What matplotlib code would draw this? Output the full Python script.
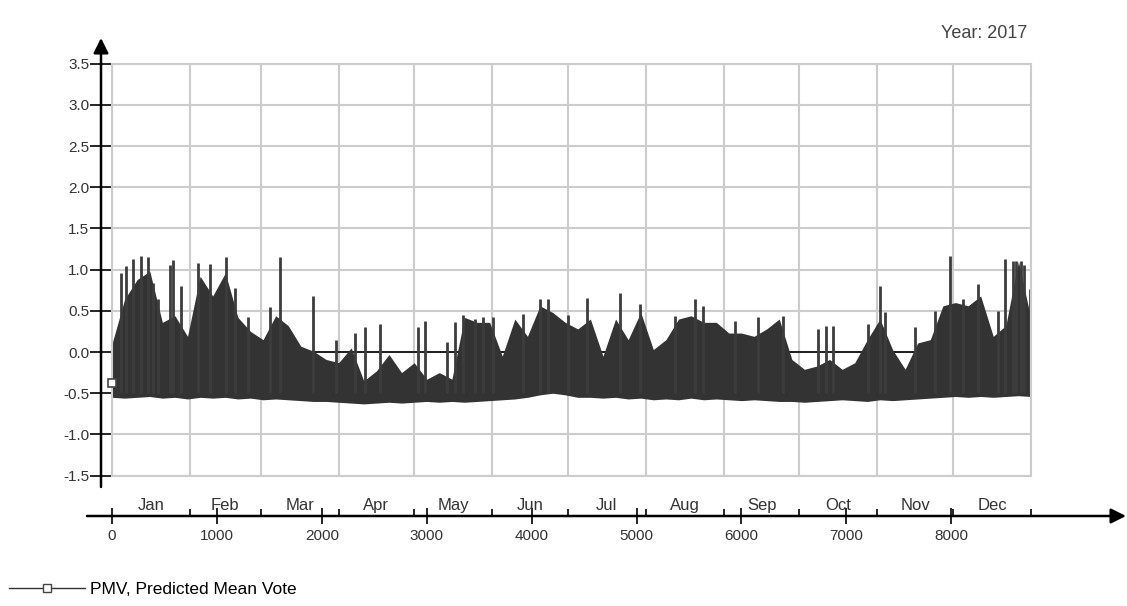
import numpy as np
import matplotlib
matplotlib.use('Agg')
import matplotlib.pyplot as plt
from matplotlib.lines import Line2D

plt.rcParams['font.family'] = ['Liberation Sans', 'DejaVu Sans']
plt.rcParams['axes.unicode_minus'] = False

# PMV band, every 120 hours (5 days)
body_hours = np.arange(0, 8761, 120)
body_top = [0.10, 0.64, 0.88, 0.98, 0.36, 0.44, 0.19, 0.92, 0.68, 0.96,
            0.42, 0.25, 0.15, 0.44, 0.32, 0.07, 0.01, -0.09, -0.13, 0.05,
            -0.35, -0.23, -0.03, -0.25, -0.13, -0.33, -0.25, -0.33, 0.42, 0.36,
            0.36, -0.05, 0.40, 0.19, 0.56, 0.48, 0.36, 0.28, 0.40, -0.05,
            0.40, 0.15, 0.48, 0.03, 0.15, 0.40, 0.44, 0.36, 0.36, 0.23,
            0.23, 0.19, 0.28, 0.40, -0.09, -0.21, -0.17, -0.09, -0.21, -0.13,
            0.15, 0.40, 0.03, -0.21, 0.11, 0.15, 0.56, 0.60, 0.56, 0.68,
            0.19, 0.32, 1.10, 0.40]
body_low = [-0.55, -0.56, -0.55, -0.54, -0.56, -0.55, -0.57, -0.55, -0.56, -0.55,
            -0.57, -0.56, -0.58, -0.57, -0.58, -0.59, -0.60, -0.60, -0.61, -0.62,
            -0.63, -0.62, -0.61, -0.62, -0.61, -0.60, -0.61, -0.60, -0.61, -0.60,
            -0.59, -0.58, -0.57, -0.55, -0.52, -0.50, -0.52, -0.55, -0.55, -0.56,
            -0.55, -0.57, -0.56, -0.58, -0.57, -0.58, -0.56, -0.58, -0.57, -0.58,
            -0.59, -0.58, -0.59, -0.60, -0.60, -0.61, -0.60, -0.59, -0.58, -0.59,
            -0.60, -0.58, -0.59, -0.58, -0.57, -0.56, -0.55, -0.54, -0.55, -0.54,
            -0.55, -0.54, -0.53, -0.54]

# single tall hourly peaks
spike_hours = [89, 137, 200, 280, 343, 391, 438, 550, 582, 661, 820, 931, 1090,
               1169, 1296, 1503, 1598, 1916, 2138, 2313, 2409, 2552, 2917, 2987,
               3197, 3270, 3346, 3457, 3537, 3632, 3918, 4078, 4158, 4347, 4530,
               4840, 5030, 5364, 5557, 5636, 5936, 6159, 6397, 6730, 6810, 6873,
               7207, 7318, 7366, 7652, 7843, 7986, 8113, 8256, 8446, 8510, 8590,
               8620, 8660, 8690, 8749]
spike_vals = [0.96, 1.04, 1.13, 1.17, 1.15, 0.84, 0.64, 1.06, 1.12, 0.80, 1.08,
              1.07, 1.15, 0.78, 0.42, 0.55, 1.15, 0.68, 0.15, 0.23, 0.30, 0.34,
              0.30, 0.38, 0.12, 0.36, 0.45, 0.40, 0.43, 0.43, 0.46, 0.64, 0.64,
              0.45, 0.66, 0.72, 0.58, 0.44, 0.64, 0.56, 0.38, 0.42, 0.44, 0.28,
              0.32, 0.32, 0.34, 0.80, 0.48, 0.30, 0.50, 1.17, 0.64, 0.82, 0.50,
              1.13, 1.10, 1.10, 1.10, 1.05, 0.76]
first_value = -0.38

months = ['Jan', 'Feb', 'Mar', 'Apr', 'May', 'Jun',
          'Jul', 'Aug', 'Sep', 'Oct', 'Nov', 'Dec']
month_bounds = [0, 744, 1416, 2160, 2880, 3624, 4344,
                5088, 5832, 6552, 7296, 8016, 8760]
y_ticks = [-1.5, -1.0, -0.5, 0.0, 0.5, 1.0, 1.5, 2.0, 2.5, 3.0, 3.5]
x_ticks = [0, 1000, 2000, 3000, 4000, 5000, 6000, 7000, 8000]

W, H = 1127, 606
fig = plt.figure(figsize=(W / 100, H / 100), dpi=100)
ax = fig.add_axes([112 / W, 1 - 475.6 / H, 919 / W, 412 / H])

band = '#333333'
ax.axhline(0, color='black', lw=1.2, zorder=1.5)
ax.fill_between(body_hours, body_low, body_top, color=band, lw=0, zorder=2)
ax.vlines(spike_hours, -0.5, spike_vals, color='#3c3c3c', lw=2.0, zorder=2.1)
ax.plot([0], [first_value], marker='s', ms=6, mfc='white', mec='#444444',
        mew=1.2, ls='none', zorder=3, clip_on=False)

ax.set_xlim(0, 8760)
ax.set_ylim(-1.5, 3.5)
ax.set_xticks(month_bounds)
ax.set_yticks(y_ticks)
ax.set_yticklabels(['%.1f' % v for v in y_ticks])
ax.grid(True, color='#cccccc', lw=1.5, zorder=0)
ax.set_axisbelow(True)
for s in ax.spines.values():
    s.set_color('#cccccc')
    s.set_linewidth(1.5)
ax.tick_params(axis='x', length=0, labelbottom=False)
ax.tick_params(axis='y', direction='out', length=16, width=1.2, color='black',
               pad=0.5, labelsize=11, labelcolor='#333333')

# y axis line with arrow
ax.annotate('', xy=(101, H - 38), xytext=(101, H - 487), xycoords='figure pixels',
            arrowprops=dict(arrowstyle='-|>,head_length=0.9,head_width=0.45',
                            lw=1.8, color='black', shrinkA=0, shrinkB=0))

# separate time axis below the plot
scale = 919 / 8760
ax2 = fig.add_axes([87 / W, 90 / H, 1040 / W, 0.0001])
ax2.set_xlim(-25 / scale, (1127 - 112) / scale)
ax2.set_ylim(0, 1)
for s in ax2.spines.values():
    s.set_visible(False)
ax2.set_yticks([])
ax2.set_xticks(x_ticks)
ax2.set_xticks(month_bounds[1:], minor=True)
ax2.tick_params(axis='x', which='major', direction='inout', length=12, width=1.2,
                labelsize=11, pad=3, labelcolor='#333333')
ax2.tick_params(axis='x', which='minor', direction='in', length=5, width=1.2)
for i, m in enumerate(months):
    mid = (month_bounds[i] + month_bounds[i + 1]) / 2
    ax2.annotate(m, xy=(mid, 0), xytext=(0, 4.5), textcoords='offset points',
                 ha='center', va='baseline', fontsize=12, color='#333333')
ax2.annotate('', xy=(1126, 90), xytext=(87, 90), xycoords='figure pixels',
             arrowprops=dict(arrowstyle='-|>,head_length=0.9,head_width=0.45',
                             lw=1.8, color='black', shrinkA=0, shrinkB=0))

fig.text(1027 / W, 1 - 33 / H, 'Year: 2017', ha='right', va='center',
         fontsize=13, color='#444444')

handle = Line2D([], [], color='#333333', lw=1, marker='s', ms=6,
                mfc='white', mec='#444444')
fig.legend(handles=[handle], labels=['PMV, Predicted Mean Vote'],
           loc='lower left', bbox_to_anchor=(0, 0.0), frameon=False,
           fontsize=12.5, handlelength=4.4, numpoints=1, handletextpad=0.3,
           borderaxespad=0.1)

fig.savefig('out.png', dpi=100)
